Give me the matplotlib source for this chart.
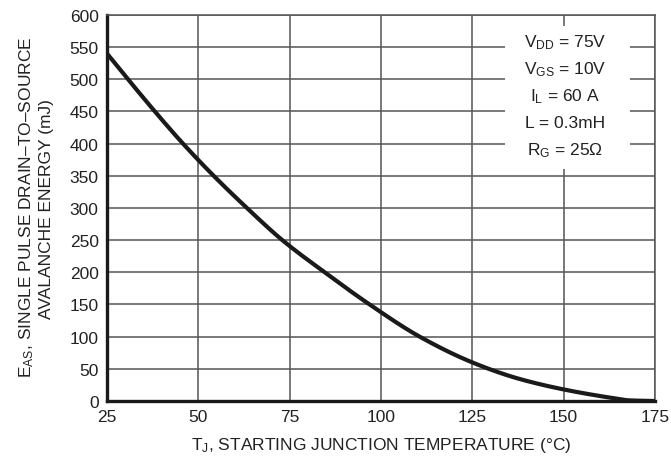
import matplotlib
matplotlib.use('Agg')
import matplotlib.pyplot as plt
from matplotlib.patches import Rectangle
import numpy as np

# curve
temp_c = [25, 30.75, 38.1, 45.8, 54.2, 63.3, 73, 84.6, 96.9, 110.6,
          125, 137.5, 150, 163, 168, 175]
energy_mj = [540, 500, 450, 400, 350, 300, 250, 200, 150, 100,
             60, 35, 18, 5, 1, 0]

x_ticks = [25, 50, 75, 100, 125, 150, 175]
y_ticks = [0, 50, 100, 150, 200, 250, 300, 350, 400, 450, 500, 550, 600]

conditions = [r'V$_{\mathrm{DD}}$ = 75V', r'V$_{\mathrm{GS}}$ = 10V', r'I$_{\mathrm{L}}$ = 60 A',
              'L = 0.3mH', r'R$_{\mathrm{G}}$ = 25$\Omega$']


def pchip(x, y, xs):
    # monotone cubic so the drawn line goes smoothly through the read points
    x = np.asarray(x, float)
    y = np.asarray(y, float)
    h = np.diff(x)
    d = np.diff(y) / h
    m = np.zeros_like(y)
    for i in range(1, len(x) - 1):
        if d[i-1] * d[i] > 0:
            w1 = 2*h[i] + h[i-1]
            w2 = h[i] + 2*h[i-1]
            m[i] = (w1 + w2) / (w1/d[i-1] + w2/d[i])
    m[0] = d[0]
    m[-1] = d[-1]
    idx = np.clip(np.searchsorted(x, xs) - 1, 0, len(x) - 2)
    t = (xs - x[idx]) / h[idx]
    h00 = 2*t**3 - 3*t**2 + 1
    h10 = t**3 - 2*t**2 + t
    h01 = -2*t**3 + 3*t**2
    h11 = t**3 - t**2
    return h00*y[idx] + h10*h[idx]*m[idx] + h01*y[idx+1] + h11*h[idx]*m[idx+1]


plt.rcParams['font.family'] = ['Liberation Sans', 'DejaVu Sans']
plt.rcParams['mathtext.fontset'] = 'custom'
plt.rcParams['mathtext.rm'] = 'Liberation Sans'
plt.rcParams['mathtext.it'] = 'Liberation Sans'
plt.rcParams['mathtext.bf'] = 'Liberation Sans'

txt = '#222222'
fig = plt.figure(figsize=(6.71, 4.64), dpi=100)
ax = fig.add_axes([0.1595, 0.1336, 0.8165, 0.832])

xs = np.linspace(25, 175, 400)
ax.plot(xs, pchip(temp_c, energy_mj, xs), color='#1a1a1a', lw=3.0, zorder=3)

ax.set_xlim(25, 175)
ax.set_ylim(0, 600)
ax.set_xticks(x_ticks)
ax.set_yticks(y_ticks)
ax.grid(True, color='#555555', lw=1.1)
ax.tick_params(length=0, labelsize=12.5, colors=txt, pad=6)
for s in ['top', 'right']:
    ax.spines[s].set_linewidth(1.1)
    ax.spines[s].set_color('#555555')
for s in ['left', 'bottom']:
    ax.spines[s].set_linewidth(2.4)
    ax.spines[s].set_color('#1a1a1a')

ax.set_xlabel(r'T$_{\mathrm{J}}$, STARTING JUNCTION TEMPERATURE ($\degree$C)', fontsize=12.5, color=txt, labelpad=8)
fig.text(0.039, 0.554, r'E$_{\mathrm{AS}}$, SINGLE PULSE DRAIN–TO–SOURCE', rotation=90,
         ha='center', va='center', fontsize=12.5, color=txt)
fig.text(0.070, 0.549, 'AVALANCHE ENERGY (mJ)', rotation=90,
         ha='center', va='center', fontsize=12.5, color=txt)

# white patch behind the test conditions
ax.add_patch(Rectangle((133.9, 360), 34.2, 223, facecolor='white', edgecolor='none', zorder=4))
for i, line in enumerate(conditions):
    ax.text(150.4, 559 - i * 42.2, line, ha='center', va='center', fontsize=12.5, color=txt, zorder=5)

fig.savefig('out.png', dpi=100)
